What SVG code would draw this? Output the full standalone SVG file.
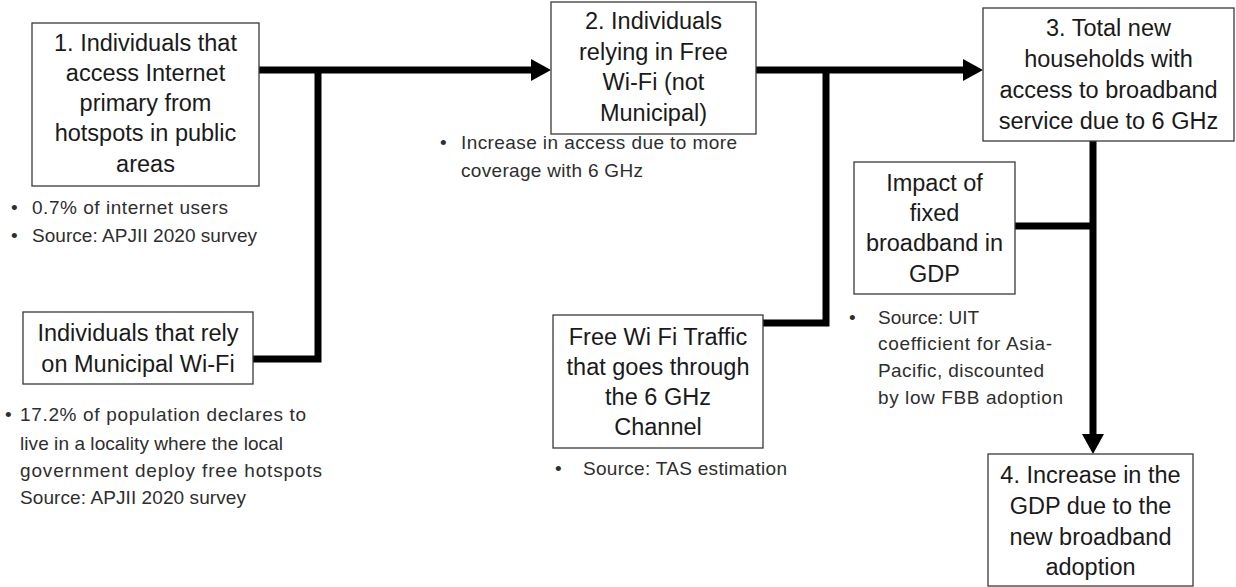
<svg xmlns="http://www.w3.org/2000/svg" width="1236" height="587" viewBox="0 0 1236 587">
  <defs>
    <marker id="arrow" viewBox="0 0 20 22" refX="10" refY="11" markerWidth="20" markerHeight="22" markerUnits="userSpaceOnUse" orient="auto">
      <path d="M0,0 L20,11 L0,22 z" fill="#000"/>
    </marker>
    <style>
      .box { fill: #fff; stroke: #3a3a3a; stroke-width: 1.3; }
      .label { font-family: "Liberation Sans", Arial, sans-serif; font-size: 23.5px; fill: #1a1a1a; text-anchor: middle; dominant-baseline: central; }
      .note { font-family: "Liberation Sans", Arial, sans-serif; font-size: 19px; fill: #2e2e2e; dominant-baseline: central; }
      .wire { fill: none; stroke: #000; stroke-width: 7; stroke-linejoin: miter; }
    </style>
  </defs>
  <rect width="1236" height="587" fill="#fff"/>

  <!-- connectors -->
  <g id="connectors">
    <path class="wire" d="M259,70 H541" marker-end="url(#arrow)"/>
    <path class="wire" d="M318,70 V359 H253"/>
    <path class="wire" d="M756,70 H973" marker-end="url(#arrow)"/>
    <path class="wire" d="M826,70 V323 H763"/>
    <path class="wire" d="M1015,226 H1093"/>
    <path class="wire" d="M1093,141 V444" marker-end="url(#arrow)"/>
  </g>

  <!-- 1. public hotspots -->
  <g id="node-hotspots">
    <rect class="box" x="32" y="23" width="227" height="163"/>
    <text class="label" x="145.5" y="43">1. Individuals that</text>
    <text class="label" x="145.5" y="73">access Internet</text>
    <text class="label" x="145.5" y="103">primary from</text>
    <text class="label" x="145.5" y="133">hotspots in public</text>
    <text class="label" x="145.5" y="164">areas</text>
    <text class="note" x="11" y="207">•</text>
    <text class="note" x="32" y="207" textLength="196" lengthAdjust="spacing">0.7% of internet users</text>
    <text class="note" x="11" y="235">•</text>
    <text class="note" x="32" y="235" textLength="225" lengthAdjust="spacing">Source: APJII 2020 survey</text>
  </g>

  <!-- municipal Wi-Fi -->
  <g id="node-municipal">
    <rect class="box" x="23" y="312" width="230" height="72"/>
    <text class="label" x="138" y="333">Individuals that rely</text>
    <text class="label" x="138" y="364">on Municipal Wi-Fi</text>
    <text class="note" x="5" y="414">•</text>
    <text class="note" x="20" y="414" textLength="286" lengthAdjust="spacing">17.2% of population declares to</text>
    <text class="note" x="20" y="443" textLength="263" lengthAdjust="spacing">live in a locality where the local</text>
    <text class="note" x="20" y="470" textLength="302" lengthAdjust="spacing">government  deploy free  hotspots</text>
    <text class="note" x="20" y="497" textLength="226" lengthAdjust="spacing">Source: APJII 2020 survey</text>
  </g>

  <!-- 2. free Wi-Fi -->
  <g id="node-freewifi">
    <rect class="box" x="551" y="2" width="205" height="132"/>
    <text class="label" x="653.5" y="21">2. Individuals</text>
    <text class="label" x="653.5" y="52">relying in Free</text>
    <text class="label" x="653.5" y="82">Wi-Fi (not</text>
    <text class="label" x="653.5" y="113">Municipal)</text>
    <text class="note" x="440" y="142">•</text>
    <text class="note" x="461" y="142" textLength="276" lengthAdjust="spacing">Increase in access due to more</text>
    <text class="note" x="461" y="170" textLength="182" lengthAdjust="spacing">coverage with 6 GHz</text>
  </g>

  <!-- 6 GHz traffic share -->
  <g id="node-traffic">
    <rect class="box" x="553" y="315" width="210" height="133"/>
    <text class="label" x="658" y="337">Free Wi Fi Traffic</text>
    <text class="label" x="658" y="367">that goes through</text>
    <text class="label" x="658" y="397">the 6 GHz</text>
    <text class="label" x="658" y="427">Channel</text>
    <text class="note" x="555" y="468">•</text>
    <text class="note" x="583" y="468" textLength="204" lengthAdjust="spacing">Source: TAS estimation</text>
  </g>

  <!-- 3. households -->
  <g id="node-households">
    <rect class="box" x="983" y="8" width="251" height="133"/>
    <text class="label" x="1108.5" y="28">3. Total new</text>
    <text class="label" x="1108.5" y="59">households with</text>
    <text class="label" x="1108.5" y="90">access to broadband</text>
    <text class="label" x="1108.5" y="121">service due to 6 GHz</text>
  </g>

  <!-- broadband impact coefficient -->
  <g id="node-impact">
    <rect class="box" x="854" y="162" width="161" height="132"/>
    <text class="label" x="934.5" y="183">Impact of</text>
    <text class="label" x="934.5" y="213">fixed</text>
    <text class="label" x="934.5" y="243">broadband in</text>
    <text class="label" x="934.5" y="274">GDP</text>
    <text class="note" x="849" y="317">•</text>
    <text class="note" x="878" y="317" textLength="101" lengthAdjust="spacing">Source: UIT</text>
    <text class="note" x="878" y="343" textLength="174" lengthAdjust="spacing">coefficient  for Asia-</text>
    <text class="note" x="878" y="370" textLength="166" lengthAdjust="spacing">Pacific, discounted</text>
    <text class="note" x="878" y="397" textLength="185" lengthAdjust="spacing">by low FBB adoption</text>
  </g>

  <!-- 4. GDP increase -->
  <g id="node-gdp">
    <rect class="box" x="988" y="454" width="205" height="132"/>
    <text class="label" x="1090.5" y="475">4. Increase in the</text>
    <text class="label" x="1090.5" y="506">GDP due to the</text>
    <text class="label" x="1090.5" y="537">new broadband</text>
    <text class="label" x="1090.5" y="567">adoption</text>
  </g>
</svg>
